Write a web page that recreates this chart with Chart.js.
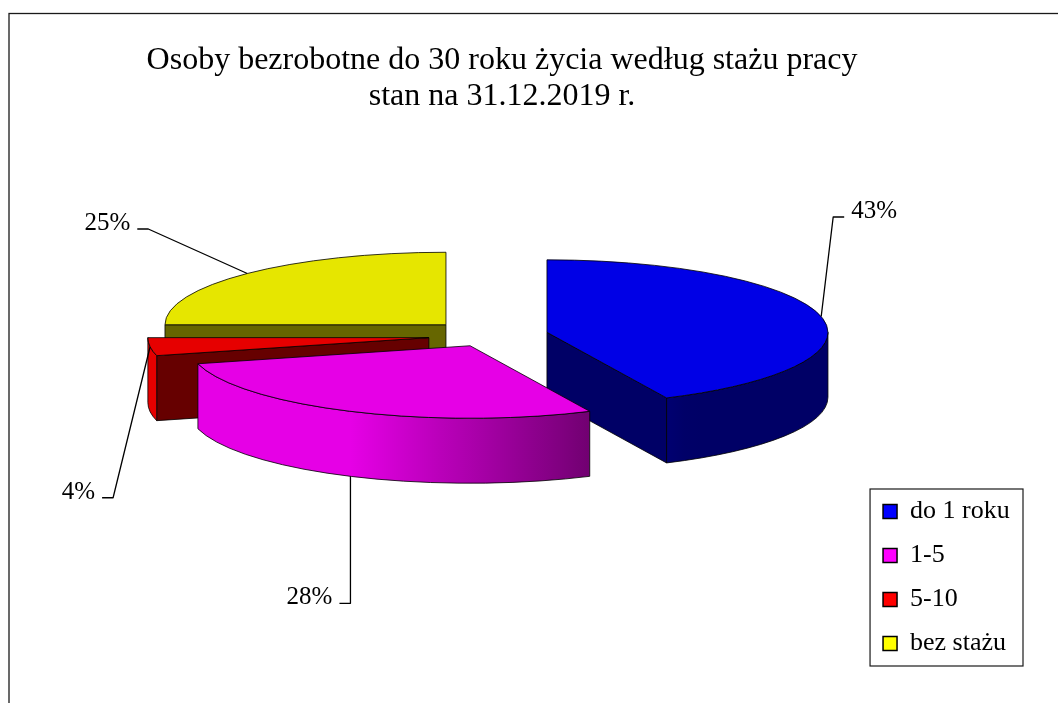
<!DOCTYPE html>
<html>
<head>
<meta charset="utf-8">
<script src="https://cdn.jsdelivr.net/npm/chart.js@4/dist/chart.umd.min.js"></script>
<style>
html,body{margin:0;padding:0;background:#fff;}
#wrap{width:1058px;height:703px;position:relative;}
</style>
</head>
<body>
<div id="wrap"><canvas id="c" width="1058" height="703"></canvas></div>
<script>
// ---- data ----
const categories = ['do 1 roku', '1-5', '5-10', 'bez stażu'];
const values = [43, 28, 4, 25];
const titleLines = ['Osoby bezrobotne do 30 roku życia według stażu pracy', 'stan na 31.12.2019 r.'];

// ---- styles ----
const topColors = ['#0000E6', '#E600E6', '#E60000', '#E6E600'];
const sideColors = ['#000066', '#660066', '#660000', '#666600'];
const legendColors = ['#0000FF', '#FF00FF', '#FF0000', '#FFFF00'];
const FONT = "'Liberation Serif', 'Times New Roman', serif";

const pieStyle = {
  cx: 488.4, cy: 335.7, rx: 281, ry: 72.5, depth: 65,
  explode: [60, 43, 60, 60],
  edge: '#000', edgeWidth: 0.8,
  leaders: [
    {dx: 12, dy: -99.5, side: 1},
    {dx: 0, dy: 127, side: -1},
    {dx: -37, dy: 151, side: -1},
    {dx: -99, dy: -44.5, side: -1}
  ],
  tail: 11, gap: 7, labelSize: 25,
  frame: {x: 9, y: 13.5}
};

function hexToRgb(h){h=h.replace('#','');return [parseInt(h.substr(0,2),16),parseInt(h.substr(2,2),16),parseInt(h.substr(4,2),16)];}
function mix(c1, c2, t){const a=hexToRgb(c1),b=hexToRgb(c2);return 'rgb('+a.map((v,i)=>Math.round(v+(b[i]-v)*t)).join(',')+')';}
function light(a){const d=a*180/Math.PI; if(d>=115) return 1; if(d<=60) return 0; return (d-60)/55;}

function P(sl, a, z){ return [sl.cx + pieStyle.rx*Math.cos(a), sl.cy + pieStyle.ry*Math.sin(a) + z]; }

function drawSides(ctx, sl){
  const D = pieStyle.depth, rx = pieStyle.rx, ry = pieStyle.ry;
  const dark = sideColors[sl.i], bright = topColors[sl.i];
  const eps = 1e-6;
  ctx.strokeStyle = pieStyle.edge; ctx.lineWidth = pieStyle.edgeWidth;
  const walls = [];
  if (Math.cos(sl.s) < -eps) walls.push(sl.s);
  if (Math.cos(sl.e) > eps) walls.push(sl.e);
  for (const a of walls){
    const p = P(sl, a, 0);
    ctx.beginPath();
    ctx.moveTo(sl.cx, sl.cy); ctx.lineTo(p[0], p[1]); ctx.lineTo(p[0], p[1]+D); ctx.lineTo(sl.cx, sl.cy+D);
    ctx.closePath();
    ctx.fillStyle = dark; ctx.fill(); ctx.stroke();
  }
  const a0 = Math.max(sl.s, 0), a1 = Math.min(sl.e, Math.PI);
  if (a1 > a0){
    ctx.beginPath();
    ctx.ellipse(sl.cx, sl.cy, rx, ry, 0, a0, a1);
    const p1 = P(sl, a1, D);
    ctx.lineTo(p1[0], p1[1]);
    ctx.ellipse(sl.cx, sl.cy + D, rx, ry, 0, a1, a0, true);
    ctx.closePath();
    const xL = sl.cx + rx*Math.cos(a1), xR = sl.cx + rx*Math.cos(a0);
    const g = ctx.createLinearGradient(xL, 0, Math.max(xR, xL+1), 0);
    const N = 16;
    for (let k=0;k<=N;k++){
      const a = a1 + (a0-a1)*k/N;
      const x = sl.cx + rx*Math.cos(a);
      let t = (xR-xL) > 0.5 ? (x-xL)/(xR-xL) : k/N;
      t = Math.min(1, Math.max(0, t));
      g.addColorStop(t, mix(dark, bright, light(a)));
    }
    ctx.fillStyle = g; ctx.fill(); ctx.stroke();
  }
}

const pie3d = {
  id: 'pie3d',
  beforeDraw(chart){
    const ctx = chart.ctx;
    ctx.save();
    ctx.strokeStyle = '#1a1a1a'; ctx.lineWidth = 1.3;
    ctx.strokeRect(pieStyle.frame.x, pieStyle.frame.y, 3000, 3000);
    ctx.restore();
  },
  beforeDatasetsDraw(chart){
    const ctx = chart.ctx;
    const meta = chart.getDatasetMeta(0);
    const data = chart.data.datasets[0].data;
    const total = data.reduce((a,b)=>a+b,0);
    const f = pieStyle.ry / pieStyle.rx;
    const slices = meta.data.map((arc, i) => {
      const s = arc.startAngle, e = arc.endAngle, m = (s+e)/2;
      const ex = pieStyle.explode[i];
      return {arc, i, s, e, m, cx: pieStyle.cx + ex*Math.cos(m), cy: pieStyle.cy + ex*Math.sin(m)*f};
    });
    const order = slices.slice().sort((a,b)=>a.cy-b.cy);
    ctx.save();
    ctx.lineJoin = 'round';
    for (const sl of order){
      drawSides(ctx, sl);
      ctx.save();
      ctx.translate(sl.cx, sl.cy);
      ctx.scale(pieStyle.rx/sl.arc.outerRadius, pieStyle.ry/sl.arc.outerRadius);
      ctx.translate(-sl.arc.x, -sl.arc.y);
      sl.arc.draw(ctx);
      ctx.restore();
      ctx.beginPath();
      ctx.moveTo(sl.cx, sl.cy);
      ctx.ellipse(sl.cx, sl.cy, pieStyle.rx, pieStyle.ry, 0, sl.s, sl.e);
      ctx.closePath();
      ctx.strokeStyle = pieStyle.edge; ctx.lineWidth = pieStyle.edgeWidth; ctx.stroke();
    }
    // labels
    ctx.font = pieStyle.labelSize + 'px ' + FONT;
    ctx.fillStyle = '#000'; ctx.strokeStyle = '#000'; ctx.lineWidth = 1.3;
    ctx.textBaseline = 'alphabetic';
    for (const sl of slices){
      const L = pieStyle.leaders[sl.i];
      let [ax, ay] = P(sl, sl.m, 0);
      if (Math.sin(sl.m) > 0.5) ay += pieStyle.depth;
      const ex = ax + L.dx, ey = ay + L.dy;
      const tx = ex + L.side*pieStyle.tail;
      ctx.beginPath(); ctx.moveTo(ax, ay); ctx.lineTo(ex, ey); ctx.lineTo(tx, ey); ctx.stroke();
      ctx.textAlign = L.side > 0 ? 'left' : 'right';
      ctx.fillText(Math.round(data[sl.i]/total*100) + '%', tx + L.side*pieStyle.gap, ey + 1);
    }
    ctx.restore();
    return false;
  },
  afterDraw(chart){
    const lg = chart.legend;
    if (!lg) return;
    const lo = lg.options.labels;
    const itemH = Math.max(lo.font.size, lo.boxHeight);
    const pad = lo.padding;
    const n = lg.legendItems.length;
    const top = lg.bottom - n*(itemH+pad) - 9.5;
    const bottom = lg.bottom - pad + 9.5;
    const ctx = chart.ctx;
    ctx.save();
    ctx.strokeStyle = '#1a1a1a'; ctx.lineWidth = 1.2;
    ctx.strokeRect(lg.left + 5, top, lg.right + 3.3 - (lg.left + 5), bottom - top);
    ctx.restore();
  }
};

new Chart(document.getElementById('c'), {
  type: 'pie',
  data: {
    labels: categories,
    datasets: [{ data: values, backgroundColor: topColors, borderWidth: 0 }]
  },
  options: {
    responsive: false,
    animation: false,
    events: [],
    layout: { padding: { left: 139, right: 38.3, top: 0, bottom: 28.5 } },
    plugins: {
      tooltip: { enabled: false },
      title: {
        display: true,
        text: titleLines,
        fullSize: false,
        color: '#000',
        font: { family: FONT, size: 32, weight: 'normal', lineHeight: 36/32 },
        padding: { top: 43, bottom: 10 }
      },
      legend: {
        display: true,
        position: 'right',
        align: 'end',
        labels: {
          color: '#000',
          font: { family: FONT, size: 26 },
          boxWidth: 14,
          boxHeight: 14,
          padding: 18,
          generateLabels(chart){
            return chart.data.labels.map((l, i) => ({
              text: l, fillStyle: legendColors[i], strokeStyle: '#000', lineWidth: 1.5,
              hidden: false, index: i, fontColor: '#000'
            }));
          }
        }
      }
    }
  },
  plugins: [pie3d]
});
</script>
</body>
</html>
